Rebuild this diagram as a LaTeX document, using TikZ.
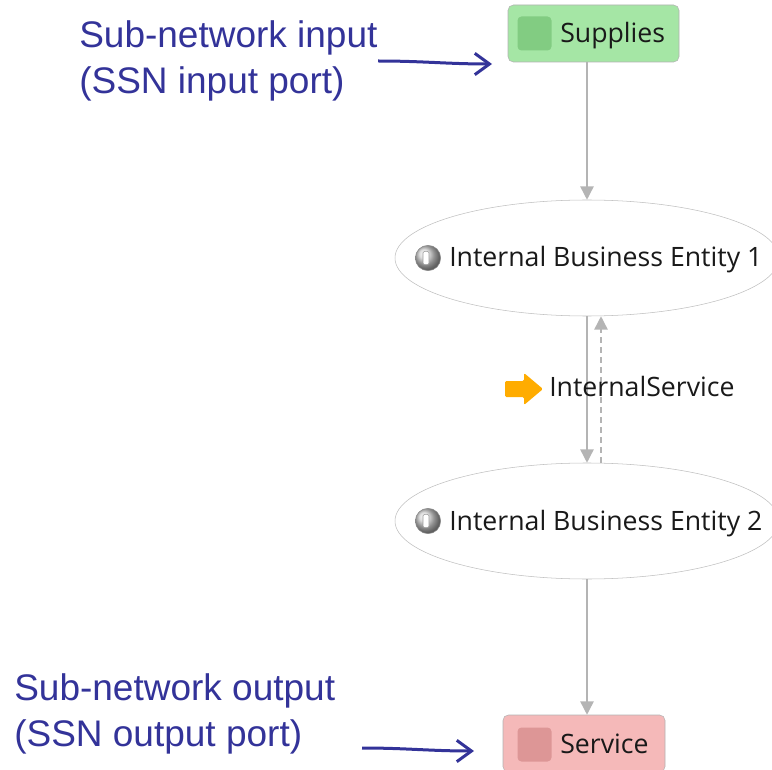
\documentclass[tikz,border=0pt]{standalone}
\usepackage{fontspec}
\setmainfont{Open Sans}
\newfontfamily\notefont{Liberation Sans}
\usetikzlibrary{arrows.meta,shapes.geometric}

\definecolor{notecolor}{RGB}{51,51,153}
\definecolor{supgreen}{RGB}{165,230,165}
\definecolor{supgreenicon}{RGB}{130,204,130}
\definecolor{servred}{RGB}{245,185,185}
\definecolor{servredicon}{RGB}{221,150,150}
\definecolor{flowgray}{RGB}{180,180,180}
\definecolor{servorange}{RGB}{255,172,0}

\begin{document}
\begin{tikzpicture}[x=0.75pt,y=-0.75pt,
    port/.style={draw=black!30, rounded corners=4pt, minimum height=42.75pt, inner sep=0pt},
    porticon/.style={rounded corners=3pt, minimum width=25.5pt, minimum height=25.5pt, inner sep=0pt},
    entity/.style={ellipse, draw=black!25, fill=white, minimum width=288pt, minimum height=87pt, inner sep=0pt},
    entityicon/.style={circle, draw=black!45, shading=ball, ball color=black!18, minimum size=19pt, inner sep=0pt},
    entitybar/.style={draw=black!40, fill=white, rounded corners=1pt, minimum width=4.5pt, minimum height=10pt, inner sep=0pt},
    label/.style={anchor=base west, inner sep=0pt, font=\fontsize{20pt}{24pt}\selectfont, text=black!90},
    note/.style={anchor=north west, align=left, inner sep=0pt, text=notecolor,
        font=\notefont\fontsize{27.75pt}{34.5pt}\selectfont},
    flow/.style={draw=flowgray, line width=1.1pt, -{Triangle[length=10pt,width=10pt]}},
    notearrow/.style={draw=notecolor, line width=2.25pt, -{Straight Barb[length=11pt,width=16pt]}}]

    \useasboundingbox (0,0) rectangle (772,770);

    % annotations
    \node[note] (innote) at (79,20) {Sub-network input\\(SSN input port)};
    \node[note] (outnote) at (14,673) {Sub-network output\\(SSN output port)};

    % input port
    \node[port, fill=supgreen, minimum width=128.25pt] (supplies) at (593.5,33.5) {};
    \node[porticon, fill=supgreenicon] (suppliesicon) at (534.5,33.5) {};
    \node[label] (supplieslbl) at (560,43) {Supplies};

    % internal entities
    \node[entity] (ibe1) at (587,258) {};
    \node[entityicon] (ibe1icon) at (428,258) {};
    \node[entitybar] (ibe1bar) at (426,258) {};
    \node[label] (ibe1lbl) at (449,267) {Internal Business Entity 1};

    \node[entity] (ibe2) at (587,521) {};
    \node[entityicon] (ibe2icon) at (428,521) {};
    \node[entitybar] (ibe2bar) at (426,521) {};
    \node[label] (ibe2lbl) at (449,530) {Internal Business Entity 2};

    % output port
    \node[port, fill=servred, minimum width=121.5pt] (service) at (584,743.5) {};
    \node[porticon, fill=servredicon] (serviceicon) at (534.5,744.5) {};
    \node[label] (servicelbl) at (560,753) {Service};

    % flows
    \draw[flow] (supplies.south -| ibe1.north) -- (ibe1.north);
    \draw[flow] (ibe1.south) -- (ibe2.north);
    \draw[flow, dash pattern=on 4.5pt off 3pt] ([xshift=10.5pt]ibe2.north) -- ([xshift=10.5pt]ibe1.south);
    \draw[flow] (ibe2.south) -- (ibe2.south |- service.north);

    % service label
    \fill[servorange, rounded corners=1pt] (505,381) -- (524,381) -- (524,373) -- (543,389)
        -- (524,405) -- (524,397) -- (505,397) -- cycle;
    \node[label] (servlbl) at (549,397) {InternalService};

    % pointers
    \coordinate (inarrow) at (378,61);
    \coordinate (intip) at (492,64);
    \draw[notearrow] (inarrow) to[out=0,in=180] (intip);
    \coordinate (outarrow) at (362,748);
    \coordinate (outtip) at (474,751);
    \draw[notearrow] (outarrow) to[out=0,in=180] (outtip);

\end{tikzpicture}
\end{document}
